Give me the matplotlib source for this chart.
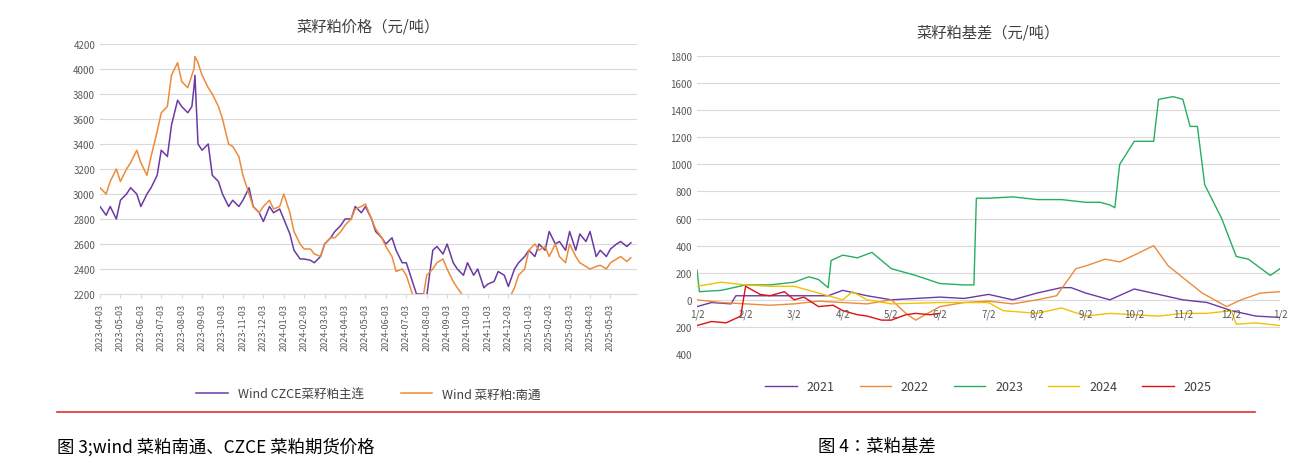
import matplotlib
matplotlib.use("Agg")
import matplotlib.pyplot as plt
from matplotlib.lines import Line2D
from matplotlib import font_manager

names = {f.name for f in font_manager.fontManager.ttflist}
cjk = [n for n in ["Noto Sans CJK SC", "Noto Sans CJK JP", "Noto Sans CJK TC", "Noto Sans CJK KR"] if n in names]
plt.rcParams["font.family"] = ["sans-serif"]
plt.rcParams["font.sans-serif"] = cjk + ["DejaVu Sans"]
plt.rcParams["axes.unicode_minus"] = False

# ---- left chart data (x = months since 2023-04-03) ----
left_ticks = ["2023-04-03","2023-05-03","2023-06-03","2023-07-03","2023-08-03","2023-09-03",
              "2023-10-03","2023-11-03","2023-12-03","2024-01-03","2024-02-03","2024-03-03",
              "2024-04-03","2024-05-03","2024-06-03","2024-07-03","2024-08-03","2024-09-03",
              "2024-10-03","2024-11-03","2024-12-03","2025-01-03","2025-02-03","2025-03-03",
              "2025-04-03","2025-05-03"]
czce_x = [0,0.3,0.5,0.8,1.0,1.3,1.5,1.8,2.0,2.3,2.5,2.8,3.0,3.3,3.5,3.8,4.0,4.3,4.5,4.6,4.65,4.8,5.0,5.3,5.5,5.8,6.0,6.3,6.5,6.8,7.0,7.3,7.5,7.8,8.0,8.3,8.5,8.8,9.0,9.3,9.5,9.8,10.0,10.3,10.5,10.8,11.0,11.3,11.5,11.8,12.0,12.3,12.5,12.8,13.0,13.3,13.5,13.8,14.0,14.3,14.5,14.8,15.0,15.3,15.5,15.8,16.0,16.3,16.5,16.8,17.0,17.3,17.5,17.8,18.0,18.3,18.5,18.8,19.0,19.3,19.5,19.8,20.0,20.3,20.5,20.8,21.0,21.3,21.5,21.8,22.0,22.3,22.5,22.8,23.0,23.3,23.5,23.8,24.0,24.3,24.5,24.8,25.0,25.3,25.5,25.8,26.0]
czce_y = [2900,2830,2900,2800,2950,3000,3050,3000,2900,3000,3050,3150,3350,3300,3550,3750,3700,3650,3700,3850,3950,3400,3350,3400,3150,3100,3000,2900,2950,2900,2950,3050,2900,2850,2780,2900,2850,2880,2800,2680,2550,2480,2480,2470,2450,2500,2600,2650,2700,2750,2800,2800,2900,2850,2900,2800,2700,2650,2600,2650,2550,2450,2450,2300,2200,2200,2180,2550,2580,2520,2600,2450,2400,2350,2450,2350,2400,2250,2280,2300,2380,2350,2260,2400,2450,2500,2550,2500,2600,2550,2700,2600,2620,2550,2700,2550,2680,2620,2700,2500,2550,2500,2560,2600,2620,2580,2610]
nt_x = czce_x
nt_y = [3050,3000,3100,3200,3100,3200,3250,3350,3250,3150,3300,3500,3650,3700,3950,4050,3900,3850,3950,4000,4100,4050,3950,3850,3800,3700,3600,3400,3380,3300,3150,3000,2900,2850,2900,2950,2880,2900,3000,2850,2700,2600,2560,2560,2520,2500,2600,2650,2650,2700,2750,2800,2880,2900,2920,2800,2720,2650,2580,2500,2380,2400,2350,2200,2150,2150,2350,2400,2450,2480,2400,2300,2250,2180,2150,2150,2180,2100,2100,2120,2150,2150,2150,2250,2350,2400,2550,2600,2550,2580,2500,2600,2500,2450,2600,2500,2450,2420,2400,2420,2430,2400,2450,2480,2500,2460,2490]

# ---- right chart data (x = months since 1/2) ----
right_ticks = ["1/2","2/2","3/2","4/2","5/2","6/2","7/2","8/2","9/2","10/2","11/2","12/2","1/2"]
x21 = [0,0.3,0.7,0.8,1.5,2.0,2.7,3.0,3.5,4.0,4.5,5.0,5.5,6.0,6.5,7.0,7.5,7.7,8.0,8.5,9.0,9.5,10.0,10.5,11.0,11.5,12.0]
y21 = [-50,-20,-30,30,30,30,30,70,30,0,10,20,10,40,0,50,90,90,50,0,80,40,0,-20,-80,-120,-130]
x22 = [0,0.5,1.0,1.5,2.0,2.5,3.0,3.5,4.0,4.3,4.5,5.0,5.5,6.0,6.5,7.0,7.4,7.8,8.0,8.4,8.7,9.0,9.4,9.7,10.05,10.4,10.9,11.2,11.6,12.0]
y22 = [0,-20,-30,-40,-30,-10,-20,-30,0,-100,-150,-50,-20,-10,-30,0,30,230,250,300,280,330,400,250,150,50,-50,0,50,60]
x23 = [0,0.05,0.5,1.0,1.5,2.0,2.3,2.5,2.7,2.76,3.0,3.3,3.6,4.0,4.5,5.0,5.5,5.7,5.75,6.0,6.5,7.0,7.5,8.0,8.3,8.5,8.6,8.7,9.0,9.4,9.5,9.8,10.0,10.15,10.3,10.45,10.8,11.1,11.35,11.8,12.0]
y23 = [220,60,70,110,110,130,170,150,90,290,330,310,350,230,180,120,110,110,750,750,760,740,740,720,720,700,680,1000,1170,1170,1480,1500,1480,1280,1280,850,600,320,300,180,230]
x24 = [0,0.5,1.0,1.5,2.0,2.5,3.0,3.2,3.5,4.0,5.0,6.0,6.3,7.0,7.5,8.0,8.5,9.0,9.5,10.0,10.5,11.0,11.1,11.5,12.0]
y24 = [100,130,110,100,100,50,0,60,0,-30,-20,-20,-80,-100,-60,-120,-100,-110,-120,-100,-100,-80,-180,-170,-190]
x25 = [0,0.3,0.6,0.9,1.0,1.3,1.5,1.8,2.0,2.2,2.5,2.8,3.0,3.3,3.5,3.8,4.0,4.3,4.5,4.8,5.0]
y25 = [-190,-160,-170,-120,100,40,30,60,0,20,-50,-40,-80,-110,-120,-150,-150,-110,-100,-110,-100]

purple = "#6a3aa5"; orange = "#ed8b3a"; green = "#27ae60"; yellow = "#f2c200"; red = "#e01010"
grid_c = "#d9d9d9"; tick_c = "#595959"

fig = plt.figure(figsize=(13.07, 4.77), dpi=100)

# ---- left ----
ax1 = fig.add_axes([100/1307, 1-295/477, 537/1307, 250/477])
ax1.plot(czce_x, czce_y, color=purple, lw=1.1, label="Wind CZCE菜籽粕主连")
ax1.plot(nt_x, nt_y, color=orange, lw=1.1, label="Wind 菜籽粕:南通")
ax1.set_ylim(2200, 4200)
ax1.set_xlim(0, 26.3)
ax1.set_yticks(range(2200, 4201, 200))
ax1.set_xticks(range(len(left_ticks)))
ax1.set_xticklabels(left_ticks, rotation=90, fontsize=6.5, color=tick_c)
ax1.tick_params(axis="y", labelsize=7, colors=tick_c, length=0)
ax1.tick_params(axis="x", length=3, color=grid_c)
ax1.grid(axis="y", color=grid_c, lw=0.8)
for s in ["top", "right", "left"]:
    ax1.spines[s].set_visible(False)
ax1.spines["bottom"].set_color(grid_c)
ax1.set_title("菜籽粕价格（元/吨）", fontsize=11, color="#404040", pad=10)
ax1.legend(loc="upper center", bbox_to_anchor=(0.5, -0.33), ncol=2, frameon=False,
           fontsize=9, labelcolor="#404040", handlelength=2.5, columnspacing=3)

# ---- right ----
ax2 = fig.add_axes([697/1307, 1-355/477, 583/1307, 298/477])
for xs, ys, c, lab in [(x21, y21, purple, "2021"), (x22, y22, orange, "2022"),
                       (x23, y23, green, "2023"), (x24, y24, yellow, "2024"),
                       (x25, y25, red, "2025")]:
    ax2.plot(xs, ys, color=c, lw=1.0, label=lab)
ax2.set_ylim(-400, 1800)
ax2.set_xlim(0, 12)
yt = list(range(-400, 1801, 200))
ax2.set_yticks(yt)
ax2.set_yticklabels([str(abs(v)) for v in yt])
ax2.tick_params(axis="y", labelsize=7, colors=tick_c, length=0)
ax2.set_xticks([])
for i, t in enumerate(right_ticks):
    ax2.text(i, -105, t, ha="center", va="center", fontsize=7, color=tick_c)
ax2.grid(axis="y", color=grid_c, lw=0.8)
for s in ["top", "right", "left", "bottom"]:
    ax2.spines[s].set_visible(False)
ax2.set_title("菜籽粕基差（元/吨）", fontsize=11, color="#404040", pad=14)
ax2.legend(loc="upper center", bbox_to_anchor=(0.5, -0.05), ncol=5, frameon=False,
           fontsize=9, labelcolor="#404040", handlelength=2.5)

# ---- captions ----
fig.add_artist(Line2D([57/1307, 1255/1307], [1-413/477, 1-413/477], color="#e03030", lw=1.2))
fig.text(57/1307, 1-447/477, "图 3;wind 菜粕南通、CZCE 菜粕期货价格", fontsize=12.5, va="center")
fig.text(818/1307, 1-447/477, "图 4：菜粕基差", fontsize=12.5, va="center")

fig.savefig("out.png", dpi=100, facecolor="white")
